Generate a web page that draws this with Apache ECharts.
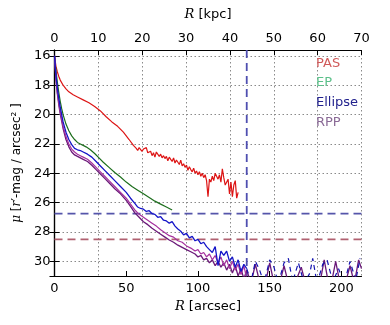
<!DOCTYPE html>
<html>
<head>
<meta charset="utf-8">
<script src="https://cdn.jsdelivr.net/npm/echarts@6/dist/echarts.min.js"></script>
<style>html,body{margin:0;padding:0;background:#fff;}#c{width:390px;height:325px;}</style>
</head>
<body>
<div id="c"></div>
<script>
// ---- data (R in arcsec, mu in r'-mag/arcsec^2) ----
const xTicksArcsec = [0, 50, 100, 150, 200];
const xTicksKpc = [0, 10, 20, 30, 40, 50, 60, 70];
const yTicks = [16, 18, 20, 22, 24, 26, 28, 30];
const legendNames = ['PAS', 'EP', 'Ellipse', 'RPP'];

const pasR = [0,1,2,3,4,6,8,10,13,16,20,24,28,32,36,40,44,48,52,55,57,58,59,60,61,62,63,64,65,66,67,68,69,70,71,72,73,74,75,76,77,78,79,80,81,82,83,84,85,86,87,88,89,90,91,92,93,94,95,96,97,98,99,100,101,102,103,104,105,106,107,108,109,110,111,112,113,114,115,116,117,118,119,120,121,122,123,124,125,126,127,128];
const pasMu = [16.0,16.7,17.1,17.4,17.65,18.0,18.25,18.45,18.65,18.8,19.0,19.2,19.45,19.75,20.15,20.5,20.8,21.2,21.7,22.1,22.3,22.45,22.25,22.3,22.5,22.35,22.4,22.25,22.6,22.7,22.5,22.8,22.6,22.9,22.55,22.6,22.85,22.7,22.95,22.8,23.0,22.85,23.15,22.9,23.05,23.2,22.95,23.3,23.1,23.25,23.4,23.1,23.5,23.35,23.6,23.45,23.8,23.55,23.75,23.9,23.65,24.0,23.85,24.1,23.9,24.2,24.0,24.3,24.1,24.5,25.6,24.4,24.6,24.2,24.5,24.0,23.9,24.4,24.1,24.6,23.7,24.3,24.8,24.9,24.4,25.4,24.6,25.6,24.8,24.5,25.7,25.3];

const epR = [0,1,2,3,4,5,6,8,10,12,14,16,18,20,22,25,28,31,34,38,42,46,50,54,58,62,66,70,74,78,82];
const epMu = [16.0,17.0,17.8,18.5,19.1,19.6,20.0,20.65,21.1,21.45,21.7,21.9,22.0,22.1,22.2,22.4,22.65,22.95,23.25,23.6,23.95,24.25,24.6,24.9,25.15,25.4,25.65,25.9,26.1,26.3,26.5];

const ellR = [0,1,2,3,4,5,6,8,10,12,14,16,18,20,23,26,29,32,35,38,42,46,50,53,56,58,60,62,64,66,68,70,72,74,76,78,80,82,84,86,88,90,92,94,96,98,100,102,104,106,108,110,112,114,116,118,120,122,124,126,128,130,132,134];
const ellMu = [16.0,17.3,18.2,18.9,19.5,20.0,20.5,21.2,21.7,22.05,22.3,22.4,22.45,22.55,22.7,22.9,23.2,23.5,23.8,24.1,24.5,24.9,25.3,25.7,26.05,26.3,26.4,26.45,26.6,26.55,26.75,26.8,27.0,26.95,27.2,27.25,27.4,27.3,27.6,27.8,27.95,28.2,28.1,28.4,28.3,28.6,28.5,28.8,28.7,29.0,29.2,29.4,29.0,30.3,29.3,29.6,29.3,30.0,29.7,30.4,29.9,30.7,30.2,30.5];
const ellOuterR = [134,137,140,143,146,150,153,156,160,163,166,170,174,178,180,183,187,190,194,198,202,206,210,213];
const ellOuterMu = [30.5,31.4,30.0,30.6,31.5,29.9,30.4,31.5,30.1,29.8,31.4,30.1,31.5,30.8,29.8,31.5,30.2,29.9,31.4,30.5,31.5,30.0,31.3,29.8];

const rppR = [0,1,2,3,4,5,6,8,10,12,14,16,18,20,23,26,29,32,35,38,42,46,50,53,56,59,62,65,68,71,74,77,80,83,86,89,92,95,98,100,102,104,106,108,110,112,114,116,118,120,122,124,126,128,130,132,134,137,140,143,147,150,153,157,160,163,168,172,175,185,188,191,193,196,199,203,206,209,212,214];
const rppMu = [16.0,17.6,18.6,19.35,19.95,20.45,20.95,21.7,22.2,22.55,22.75,22.85,22.95,23.05,23.2,23.45,23.75,24.05,24.35,24.65,25.05,25.4,25.85,26.25,26.7,27.0,27.3,27.5,27.75,27.95,28.15,28.35,28.55,28.7,28.9,29.05,29.2,29.35,29.5,29.7,29.6,29.9,29.8,30.1,29.9,30.3,30.0,30.4,30.1,30.6,30.2,30.8,30.3,31.0,30.5,31.2,30.6,31.5,30.2,31.4,31.5,30.1,31.5,31.5,30.3,31.5,31.4,30.4,31.5,31.5,29.9,31.5,31.5,30.0,31.5,31.4,30.3,31.5,29.9,30.5];

const rpp2R = [0,1,2,3,4,5,6,8,10,12,14,16,18,20,23,26,29,32,35,38,42,46,50,53,56,59,62,65,68,71,74,77,80,83,86,89,92,95,98,100,102,104,106,108,110,112,114,116,118,120,122,124,126,128,130,132,134];
const rpp2Mu = [16.0,17.5,18.5,19.2,19.8,20.3,20.8,21.5,22.0,22.35,22.55,22.7,22.8,22.9,23.05,23.3,23.6,23.9,24.2,24.5,24.9,25.3,25.7,26.1,26.5,26.8,27.0,27.2,27.4,27.6,27.85,28.05,28.25,28.35,28.6,28.7,28.95,29.1,29.3,29.2,29.5,29.4,29.7,29.5,29.9,29.6,30.1,29.7,30.3,29.9,30.5,30.0,30.6,30.2,30.9,30.3,31.2];

const limitEllipse = 26.75;   // blue dashed level
const limitRpp = 28.5;        // red dashed level
const rLimit = 134;           // vertical dashed radius (arcsec)

const xMaxArcsec = 214;
const xMaxKpc = 70;
const yTop = 15.6;
const yBottom = 31;

function pairs(xs, ys){ return xs.map((x,i)=>[x, ys[i]]); }

const chart = echarts.init(document.getElementById('c'), null, {renderer:'canvas'});
const FONT = 'DejaVu Sans';
const gridDot = {show:true, lineStyle:{color:'#8a8a8a', type:[1.5,2.5], width:1}};
const lineBase = {type:'line', showSymbol:false, symbol:'none', clip:true, animation:false, z:3};

chart.setOption({
  animation:false,
  backgroundColor:'#fff',
  grid:{left:54.5, right:28.5, top:50, bottom:49, containLabel:false},
  xAxis:[
    {type:'value', position:'bottom', min:0, max:xMaxArcsec, interval:50,
     name:'{i|R} [arcsec]', nameLocation:'middle', nameGap:24,
     nameTextStyle:{fontFamily:FONT, fontSize:13, color:'#000', rich:{i:{fontFamily:'DejaVu Serif', fontStyle:'italic', fontSize:13}}},
     axisLine:{show:true, lineStyle:{color:'#000', width:1.2}},
     axisTick:{show:true, inside:true, length:5, lineStyle:{color:'#000'}},
     axisLabel:{fontFamily:FONT, fontSize:13, color:'#000', margin:6, showMaxLabel:false,
       formatter:v=> xTicksArcsec.includes(v) ? String(v) : ''},
     splitLine:{show:false}},
    {type:'value', position:'top', min:0, max:xMaxKpc, interval:10,
     name:'{i|R} [kpc]', nameLocation:'middle', nameGap:29,
     nameTextStyle:{fontFamily:FONT, fontSize:13, color:'#000', rich:{i:{fontFamily:'DejaVu Serif', fontStyle:'italic', fontSize:13}}},
     axisLine:{show:true, lineStyle:{color:'#000', width:1.2}},
     axisTick:{show:true, inside:true, length:5, lineStyle:{color:'#000'}},
     axisLabel:{fontFamily:FONT, fontSize:13, color:'#000', margin:5,
       formatter:v=> xTicksKpc.includes(v) ? String(v) : ''},
     splitLine:gridDot}
  ],
  yAxis:[
    {type:'value', position:'left', inverse:true, min:yTop, max:yBottom, minInterval:2, maxInterval:2, splitNumber:8,
     name:'{i|μ} [{i|r}′-mag / arcsec² ]', nameLocation:'middle', nameGap:30, nameRotate:90,
     nameTextStyle:{fontFamily:FONT, fontSize:12, color:'#000', rich:{i:{fontFamily:'DejaVu Serif', fontStyle:'italic', fontSize:12}}},
     axisLine:{show:true, lineStyle:{color:'#000', width:1.2}},
     axisTick:{show:true, inside:true, length:5, lineStyle:{color:'#000'}},
     axisLabel:{fontFamily:FONT, fontSize:13, color:'#000', margin:4, showMinLabel:false, showMaxLabel:false,
       formatter:v=> yTicks.includes(v) ? String(v) : ''},
     splitLine:gridDot},
    {type:'value', position:'right', inverse:true, min:yTop, max:yBottom, minInterval:2, maxInterval:2, splitNumber:8,
     axisLine:{show:true, lineStyle:{color:'#000', width:1.2}},
     axisTick:{show:true, inside:true, length:5, lineStyle:{color:'#000'}},
     axisLabel:{show:false}, splitLine:{show:false}}
  ],
  graphic: legendNames.map((n,i)=>({
    type:'text', left:316, top:57 + i*19.6, z:10,
    style:{text:n, fontFamily:FONT, fontSize:13,
      fill:['#d05a5a','#5cc08a','#22228e','#8a6a96'][i]}
  })),
  series:[
    Object.assign({}, lineBase, {name:'Ellipse limit', data:pairs([0, xMaxArcsec],[limitEllipse, limitEllipse]),
      lineStyle:{color:'#5555aa', width:1.8, type:[8,5]}, z:2}),
    Object.assign({}, lineBase, {name:'RPP limit', data:pairs([0, xMaxArcsec],[limitRpp, limitRpp]),
      lineStyle:{color:'#b06070', width:1.8, type:[8,5]}, z:2}),
    Object.assign({}, lineBase, {name:'R limit', data:pairs([rLimit, rLimit],[yTop, yBottom]),
      lineStyle:{color:'#4f4fb0', width:1.8, type:[8,5]}, z:2}),
    Object.assign({}, lineBase, {name:'PAS', data:pairs(pasR,pasMu), lineStyle:{color:'#dd1515', width:1.2}}),
    Object.assign({}, lineBase, {name:'EP', data:pairs(epR,epMu), lineStyle:{color:'#1d6e1d', width:1.2}}),
    Object.assign({}, lineBase, {name:'RPP', data:pairs(rppR,rppMu), lineStyle:{color:'#6a1878', width:1.3}}),
    Object.assign({}, lineBase, {name:'RPP2', data:pairs(rpp2R,rpp2Mu), lineStyle:{color:'#a5309e', width:1.2}}),
    Object.assign({}, lineBase, {name:'Ellipse', data:pairs(ellR,ellMu), lineStyle:{color:'#1414c8', width:1.3}}),
    Object.assign({}, lineBase, {name:'Ellipse outer', data:pairs(ellOuterR,ellOuterMu), lineStyle:{color:'#1414b0', width:1.2, type:[5,4]}})
  ]
});
</script>
</body>
</html>
